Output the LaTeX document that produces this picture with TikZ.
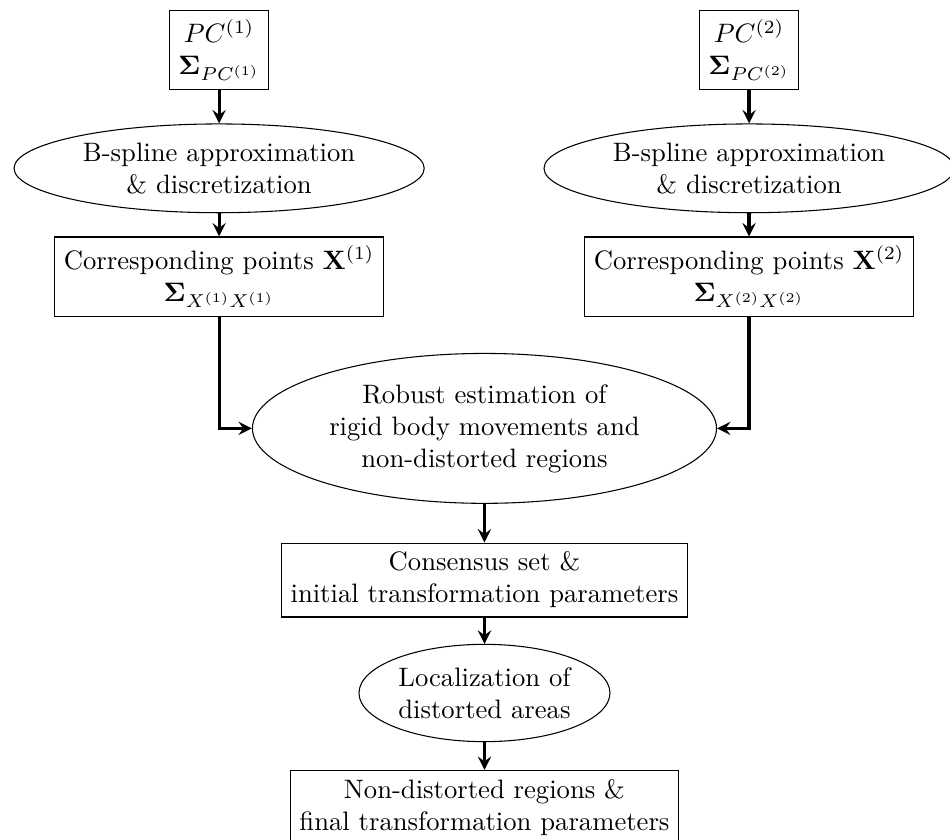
\documentclass[tikz,border=0pt]{standalone}
\usepackage{amsmath}
\usepackage{amssymb}
\usepackage{tikz}
\usetikzlibrary{shapes.geometric}

\tikzset{
    boxnode/.style={draw, rectangle, align=center},
    ellnode/.style={draw, ellipse, align=center},
    flow/.style={->, very thick}
}

\begin{document}
\begin{tikzpicture}[>=stealth]
        \useasboundingbox (0,0) rectangle (12.53,-11.07);

        % Eingangsdaten
        \node[boxnode] (pc1) at (2.89, -0.66) {$PC^{(1)}$\\ $\boldsymbol{\Sigma}_{PC^{(1)}}$};
        \node[boxnode] (pc2) at (9.88, -0.66) {$PC^{(2)}$\\ $\boldsymbol{\Sigma}_{PC^{(2)}}$};

        % Approximation
        \node[ellnode, inner ysep=2.2pt] (bs1) at (2.89, -2.22) {B-spline approximation\\ \& discretization};
        \node[ellnode, inner ysep=2.2pt] (bs2) at (9.88, -2.22) {B-spline approximation\\ \& discretization};

        % Korrespondierende Punkte
        \node[boxnode] (cp1) at (2.89, -3.65) {Corresponding points $\mathbf{X}^{(1)}$\\ $\boldsymbol{\Sigma}_{X^{(1)}X^{(1)}}$};
        \node[boxnode] (cp2) at (9.88, -3.65) {Corresponding points $\mathbf{X}^{(2)}$\\ $\boldsymbol{\Sigma}_{X^{(2)}X^{(2)}}$};

        % Mittlere Spalte
        \node[ellnode] (rob) at (6.39, -5.65) {Robust estimation of\\ rigid body movements and\\ non-distorted regions};
        \node[boxnode] (cons) at (6.39, -7.65) {Consensus set \&\\ initial transformation parameters};
        \node[ellnode, inner xsep=1pt] (loc) at (6.39, -9.14) {Localization of\\ distorted areas};
        \node[boxnode] (fin) at (6.39, -10.65) {Non-distorted regions \&\\ final transformation parameters};

        % Pfeile
        \draw[flow] (pc1) -- (bs1);
        \draw[flow] (pc2) -- (bs2);
        \draw[flow] (bs1) -- (cp1);
        \draw[flow] (bs2) -- (cp2);
        \draw[flow] (cp1.south) |- (rob.west);
        \draw[flow] (cp2.south) |- (rob.east);
        \draw[flow] (rob) -- (cons);
        \draw[flow] (cons) -- (loc);
        \draw[flow] (loc) -- (fin);
    \end{tikzpicture}
\end{document}
